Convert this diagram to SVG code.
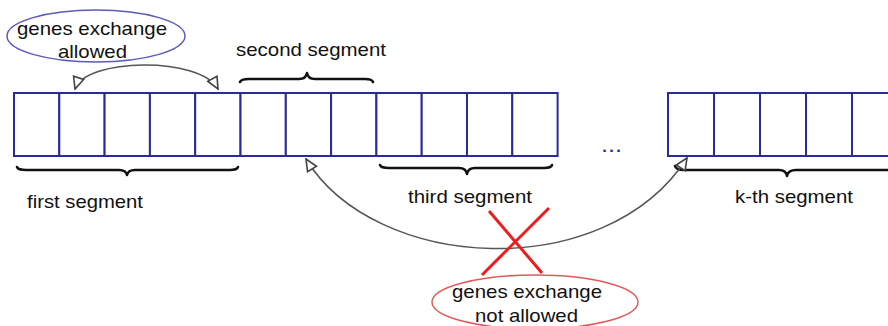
<svg xmlns="http://www.w3.org/2000/svg" width="888" height="326" viewBox="0 0 888 326">
<style>
.cell{fill:#fff;stroke:#2a2a9c;stroke-width:2}
.brace{fill:none;stroke:#111;stroke-width:2.5;stroke-linecap:round;stroke-linejoin:round}
.lbl{font-family:"Liberation Sans",Arial,sans-serif;font-size:19px;fill:#111}
.conn{fill:none;stroke:#555;stroke-width:1.5}
</style>
<defs>
<marker id="ah" viewBox="0 0 12 12" refX="11" refY="6" markerWidth="14" markerHeight="14" markerUnits="userSpaceOnUse" orient="auto-start-reverse">
<path d="M1,1.5 L11,6 L1,10.5 Z" fill="#fff" stroke="#444" stroke-width="1.4"/>
</marker>
</defs>
<rect width="888" height="326" fill="#fff"/>
<g id="strip1">
<rect class="cell" x="14" y="93" width="45.3" height="63"/>
<rect class="cell" x="59.3" y="93" width="45.3" height="63"/>
<rect class="cell" x="104.6" y="93" width="45.3" height="63"/>
<rect class="cell" x="149.9" y="93" width="45.3" height="63"/>
<rect class="cell" x="195.2" y="93" width="45.3" height="63"/>
<rect class="cell" x="240.5" y="93" width="45.3" height="63"/>
<rect class="cell" x="285.8" y="93" width="45.3" height="63"/>
<rect class="cell" x="331.1" y="93" width="45.3" height="63"/>
<rect class="cell" x="376.4" y="93" width="45.3" height="63"/>
<rect class="cell" x="421.7" y="93" width="45.3" height="63"/>
<rect class="cell" x="467" y="93" width="45.3" height="63"/>
<rect class="cell" x="512.3" y="93" width="45.3" height="63"/>
</g>
<g id="strip2">
<rect class="cell" x="668" y="93" width="46" height="63"/>
<rect class="cell" x="714" y="93" width="46" height="63"/>
<rect class="cell" x="760" y="93" width="46" height="63"/>
<rect class="cell" x="806" y="93" width="46" height="63"/>
<rect class="cell" x="852" y="93" width="46" height="63"/>
</g>
<g id="dots">
<text x="601" y="152" font-family="Liberation Sans,Arial,sans-serif" font-size="22" fill="#2a2a9c" textLength="21" lengthAdjust="spacingAndGlyphs">...</text>
</g>
<g id="first-segment">
<path class="brace" d="M17,167 Q18,170 26,170 L119,170 Q126,170 127,175 Q128,170 135,170 L230,170 Q237,170 238,167"/>
<text class="lbl" x="27" y="208" textLength="116" lengthAdjust="spacingAndGlyphs">first segment</text>
</g>
<g id="second-segment">
<path class="brace" d="M240,82 Q241,79 249,79 L299,79 Q306,79 307,73 Q308,79 315,79 L365,79 Q372,79 373,82"/>
<text class="lbl" x="236" y="56" textLength="150" lengthAdjust="spacingAndGlyphs">second segment</text>
</g>
<g id="third-segment">
<path class="brace" d="M380,165 Q381,168 389,168 L459,168 Q466,168 467,174 Q468,168 475,168 L544,168 Q551,168 552,165"/>
<text class="lbl" x="408" y="203" textLength="124" lengthAdjust="spacingAndGlyphs">third segment</text>
</g>
<g id="kth-segment">
<path class="brace" d="M675,166 Q676,170 684,170 L779,170 Q786,170 787,176 Q788,170 796,170 L888,170"/>
<text class="lbl" x="735" y="203" textLength="118" lengthAdjust="spacingAndGlyphs">k-th segment</text>
</g>
<g id="allowed-note">
<ellipse cx="96" cy="36" rx="89" ry="26" fill="#fff" stroke="#5a5ab8" stroke-width="1.5"/>
<text class="lbl" x="17" y="35" textLength="150" lengthAdjust="spacingAndGlyphs">genes exchange</text>
<text class="lbl" x="58" y="58" textLength="69" lengthAdjust="spacingAndGlyphs">allowed</text>
</g>
<g id="not-allowed-note">
<ellipse cx="535" cy="302" rx="103" ry="27" fill="#fff" stroke="#e05a5a" stroke-width="1.5"/>
<text class="lbl" x="452" y="298" textLength="150" lengthAdjust="spacingAndGlyphs">genes exchange</text>
<text class="lbl" x="475" y="322" textLength="103" lengthAdjust="spacingAndGlyphs">not allowed</text>
</g>
<g id="connectors">
<path class="conn" d="M75,89 C85,58 200,56 218,89" marker-start="url(#ah)" marker-end="url(#ah)"/>
<path class="conn" d="M306,159 C375,272 605,285 687,158" marker-start="url(#ah)" marker-end="url(#ah)"/>
</g>
<g id="cross">
<line x1="489" y1="211" x2="542" y2="273" stroke="#ee1c1c" stroke-width="3"/>
<line x1="549" y1="208" x2="482" y2="275" stroke="#ee1c1c" stroke-width="3"/>
</g>
</svg>
